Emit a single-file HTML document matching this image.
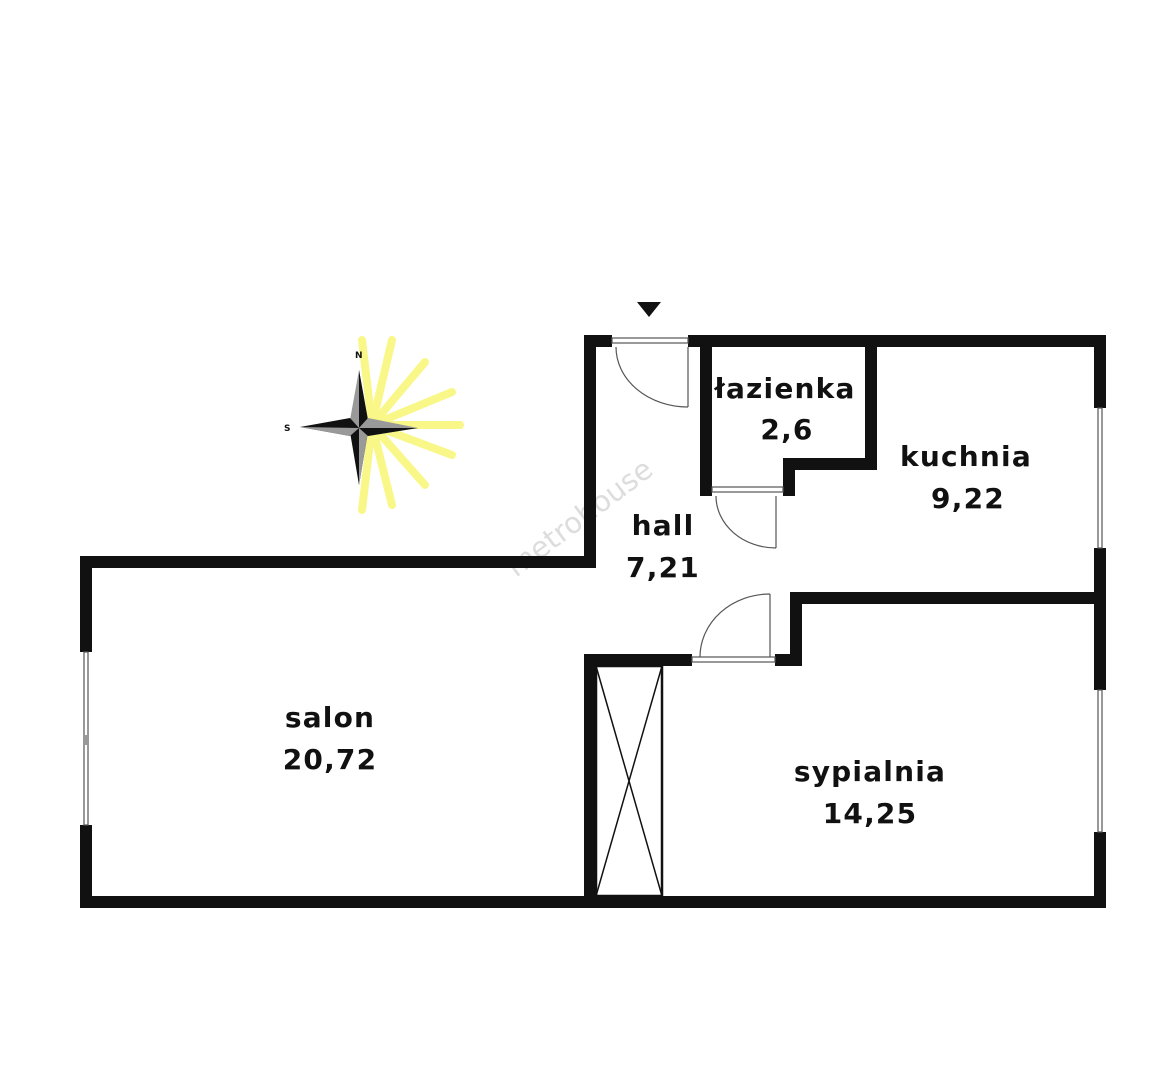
<!DOCTYPE html>
<html><head><style>body{margin:0;background:#fff}svg{display:block}text{font-family:"DejaVu Sans","Liberation Sans",sans-serif;font-weight:bold;fill:#111}</style></head>
<body>
<svg width="1170" height="1080" viewBox="0 0 1170 1080" xmlns="http://www.w3.org/2000/svg">
<rect width="1170" height="1080" fill="#fff"/>
<g opacity="0.6" stroke="#f5f23a" stroke-width="8" stroke-linecap="round">
<line x1="372" y1="425" x2="362" y2="340"/><line x1="372" y1="425" x2="392" y2="340"/>
<line x1="372" y1="425" x2="425" y2="362"/><line x1="372" y1="425" x2="452" y2="392"/>
<line x1="372" y1="425" x2="460" y2="425"/><line x1="372" y1="425" x2="452" y2="455"/>
<line x1="372" y1="425" x2="425" y2="485"/><line x1="372" y1="425" x2="392" y2="505"/>
<line x1="372" y1="425" x2="362" y2="510"/>
</g>
<polygon points="359,370 368,420 359,428 350,420" fill="#999"/>
<polygon points="359,370 368,420 359,428" fill="#111"/>
<polygon points="359,485 350,432 359,428 368,432" fill="#111"/>
<polygon points="359,485 368,432 359,428" fill="#999"/>
<polygon points="300,427 350,418 359,428 350,436" fill="#111"/>
<polygon points="300,427 350,436 359,428" fill="#999"/>
<polygon points="418,428 368,418 359,428 368,436" fill="#999"/>
<polygon points="418,428 368,436 359,428" fill="#111"/>
<text x="355" y="358" font-size="9" fill="#333">N</text>
<text x="284" y="431" font-size="9" fill="#333">S</text>
<polygon points="637,302 661,302 649,317" fill="#111"/>
<text x="0" y="0" transform="translate(516,578) rotate(-37)" font-size="29" style="font-weight:normal;fill:#ddd">metrohouse</text>
<g fill="#111">
<rect x="80" y="556" width="516" height="12"/>
<rect x="80" y="556" width="12" height="96"/>
<rect x="80" y="825" width="12" height="83"/>
<rect x="80" y="896" width="1026" height="12"/>
<rect x="1094" y="335" width="12" height="73"/>
<rect x="1094" y="548" width="12" height="142"/>
<rect x="1094" y="832" width="12" height="76"/>
<rect x="584" y="335" width="12" height="233"/>
<rect x="584" y="335" width="28" height="12"/>
<rect x="688" y="335" width="418" height="12"/>
<rect x="700" y="335" width="12" height="161"/>
<rect x="865" y="335" width="12" height="135"/>
<rect x="783" y="458" width="94" height="12"/>
<rect x="783" y="458" width="12" height="38"/>
<rect x="790" y="592" width="316" height="12"/>
<rect x="790" y="592" width="12" height="74"/>
<rect x="775" y="654" width="27" height="12"/>
<rect x="584" y="654" width="108" height="12"/>
<rect x="584" y="654" width="12" height="254"/>
</g>
<g fill="none" stroke="#555" stroke-width="1.2">
<rect x="84" y="652" width="4" height="173"/>
<line x1="86" y1="735" x2="86" y2="745"/>
<rect x="1098" y="408" width="4" height="140"/>
<rect x="1098" y="690" width="4" height="142"/>
<rect x="612" y="338" width="76" height="5"/>
<rect x="712" y="487" width="71" height="5"/>
<rect x="692" y="657" width="83" height="5"/>
<line x1="688" y1="347" x2="688" y2="407"/>
<path d="M616,347 A72,60 0 0 0 688,407"/>
<line x1="776" y1="496" x2="776" y2="548"/>
<path d="M716,496 A60,52 0 0 0 776,548"/>
<line x1="770" y1="594" x2="770" y2="657"/>
<path d="M700,657 A70,63 0 0 1 770,594"/>
<rect x="596" y="666" width="66" height="230" stroke="#111" stroke-width="2.5"/>
<line x1="596" y1="666" x2="662" y2="896" stroke="#111" stroke-width="1.5"/>
<line x1="662" y1="666" x2="596" y2="896" stroke="#111" stroke-width="1.5"/>
</g>
<g font-size="28" text-anchor="middle" letter-spacing="1.2">
<text x="785" y="398">łazienka</text>
<text x="787" y="439">2,6</text>
<text x="966" y="466">kuchnia</text>
<text x="968" y="508">9,22</text>
<text x="663" y="535">hall</text>
<text x="663" y="577">7,21</text>
<text x="330" y="727">salon</text>
<text x="330" y="769">20,72</text>
<text x="870" y="781">sypialnia</text>
<text x="870" y="823">14,25</text>
</g>
</svg>
</body></html>
